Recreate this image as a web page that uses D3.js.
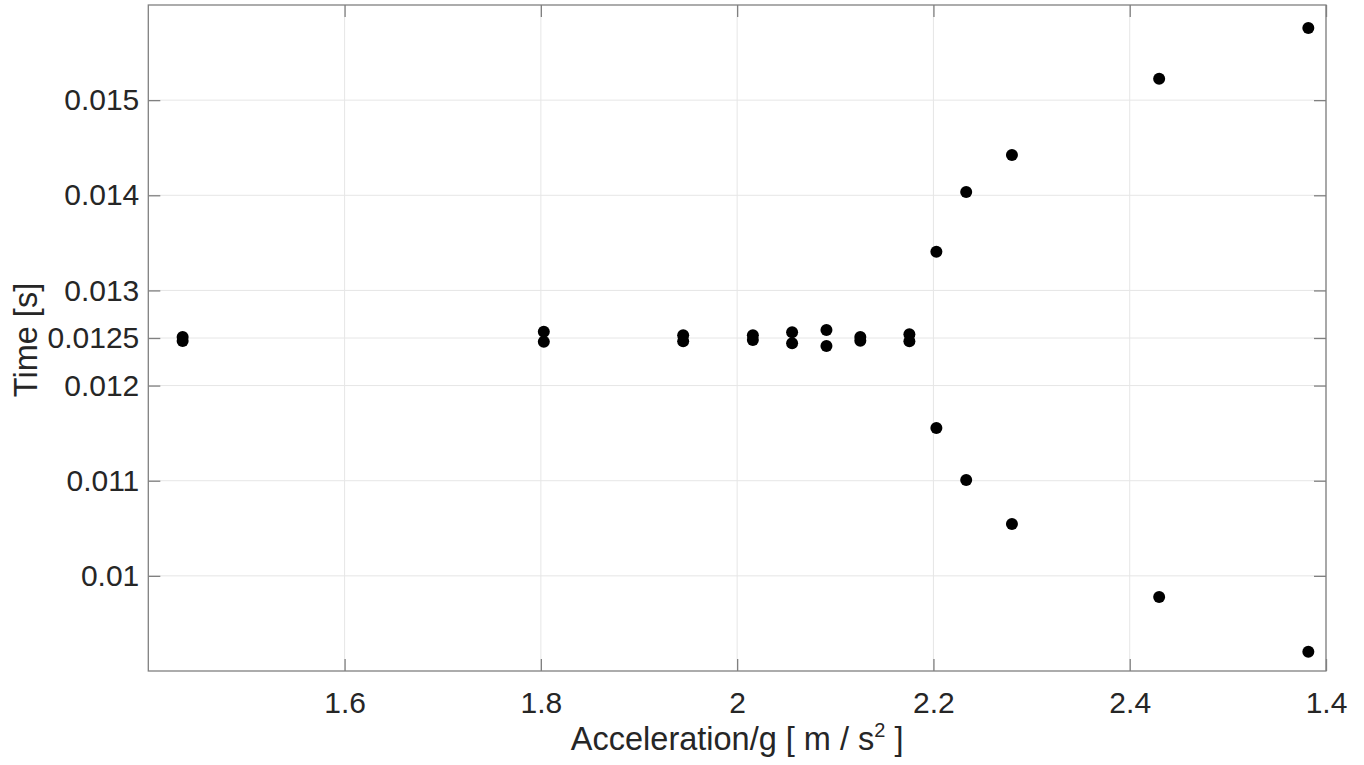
<!DOCTYPE html>
<html>
<head>
<meta charset="utf-8">
<script src="https://cdn.jsdelivr.net/npm/d3@7"></script>
<style>
  html, body { margin: 0; padding: 0; background: #fff; }
  svg { display: block; }
  text { font-family: "Liberation Sans", Arial, sans-serif; fill: #262626; }
</style>
</head>
<body>
<svg id="chart" width="1364" height="765"></svg>
<script>
// Data
const accel = [1.435, 1.435, 1.803, 1.803, 1.945, 1.945, 2.016, 2.016, 2.056, 2.056,
               2.091, 2.091, 2.1255, 2.1255, 2.1755, 2.1755, 2.203, 2.203, 2.2334, 2.2334,
               2.28, 2.28, 2.43, 2.43, 2.582, 2.582];
const time  = [0.012511, 0.012469, 0.012566, 0.012461, 0.012528, 0.012465, 0.012528, 0.012479, 0.012560, 0.012444,
               0.012584, 0.012416, 0.012511, 0.012472, 0.012539, 0.012465, 0.013407, 0.011554, 0.014035, 0.011007,
               0.014423, 0.010545, 0.015225, 0.009778, 0.015758, 0.009203];
const xTicks = [1.6, 1.8, 2.0, 2.2, 2.4, 2.6];
const xTickLabels = ["1.6", "1.8", "2", "2.2", "2.4", "1.4"];
const yTicks = [0.010, 0.011, 0.012, 0.0125, 0.013, 0.014, 0.015];
const yTickLabels = ["0.01", "0.011", "0.012", "0.0125", "0.013", "0.014", "0.015"];
const xDomain = [1.4, 2.6];
const yDomain = [0.009, 0.016];

const svg = d3.select("#chart");
const L = 148.3, R = 1326, T = 5, B = 671;
const x = d3.scaleLinear().domain(xDomain).range([L, R]);
const y = d3.scaleLinear().domain(yDomain).range([B, T]);
const tickLen = 12;
const axisColor = "#808080";

// Grid
const grid = svg.append("g");
grid.selectAll("line.gx").data(xTicks).join("line")
  .attr("x1", d => x(d)).attr("x2", d => x(d)).attr("y1", T).attr("y2", B)
  .attr("stroke", "#e6e6e6").attr("stroke-width", 1);
grid.selectAll("line.gy").data(yTicks).join("line")
  .attr("y1", d => y(d)).attr("y2", d => y(d)).attr("x1", L).attr("x2", R)
  .attr("stroke", "#e6e6e6").attr("stroke-width", 1);

const fmtX = (d, i) => xTickLabels[i];
const fmtY = (d, i) => yTickLabels[i];

function styleAxis(g) {
  g.select(".domain").remove();
  g.selectAll(".tick line").attr("stroke", axisColor).attr("stroke-width", 1.3);
  g.selectAll(".tick text").attr("fill", "#262626").style("font-size", "30px")
    .style("font-family", "'Liberation Sans', Arial, sans-serif");
}

svg.append("g").attr("transform", `translate(0,${B})`)
  .call(d3.axisBottom(x).tickValues(xTicks).tickFormat(fmtX).tickSizeInner(-tickLen).tickSizeOuter(0).tickPadding(21))
  .call(styleAxis);
svg.append("g").attr("transform", `translate(0,${T})`)
  .call(d3.axisTop(x).tickValues(xTicks).tickFormat("").tickSizeInner(-tickLen).tickSizeOuter(0))
  .call(styleAxis);
svg.append("g").attr("transform", `translate(${L},0)`)
  .call(d3.axisLeft(y).tickValues(yTicks).tickFormat(fmtY).tickSizeInner(-tickLen).tickSizeOuter(0).tickPadding(9))
  .call(styleAxis);
svg.append("g").attr("transform", `translate(${R},0)`)
  .call(d3.axisRight(y).tickValues(yTicks).tickFormat("").tickSizeInner(-tickLen).tickSizeOuter(0))
  .call(styleAxis);

// Box
svg.append("rect").attr("x", L).attr("y", T).attr("width", R - L).attr("height", B - T)
  .attr("fill", "none").attr("stroke", axisColor).attr("stroke-width", 1.3);

// Points
svg.append("g").selectAll("circle").data(accel.map((a, i) => [a, time[i]])).join("circle")
  .attr("cx", d => x(d[0])).attr("cy", d => y(d[1])).attr("r", 6)
  .attr("fill", "#000");

// X label
const xl = svg.append("text").attr("x", (L + R) / 2).attr("y", 750)
  .attr("text-anchor", "middle").style("font-size", "32.5px");
xl.append("tspan").text("Acceleration/g [ m / s");
xl.append("tspan").text("2").style("font-size", "20px").attr("dy", -13);
xl.append("tspan").text(" ]").attr("dy", 13);

// Y label
svg.append("text").attr("transform", `translate(37,340) rotate(-90)`)
  .attr("text-anchor", "middle").style("font-size", "32.5px").text("Time [s]");
</script>
</body>
</html>
